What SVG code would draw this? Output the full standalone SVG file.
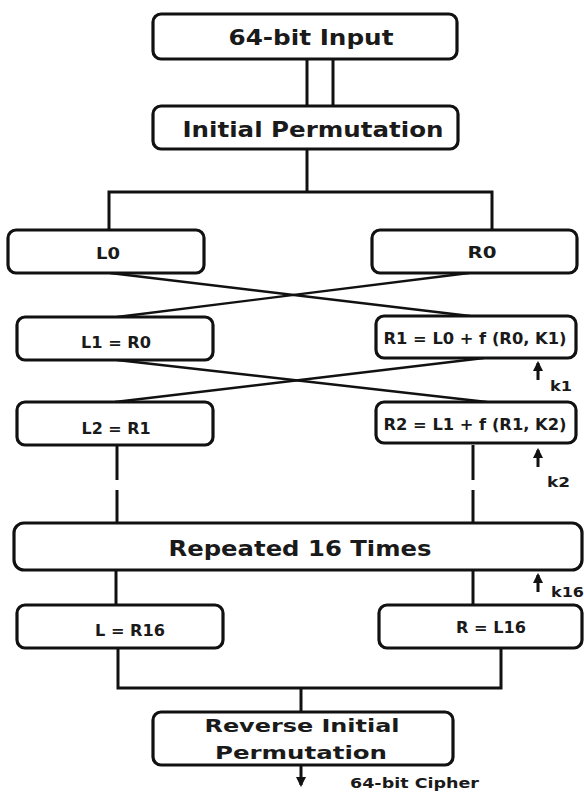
<svg xmlns="http://www.w3.org/2000/svg" width="584" height="792" viewBox="0 0 584 792">
  <defs>
    <marker id="arrowHead" viewBox="0 0 10 10" refX="8" refY="5" markerWidth="3.5" markerHeight="3.5" orient="auto">
      <path d="M0,0 L10,5 L0,10 Z" fill="#111"/>
    </marker>
  </defs>
  <style>
    .box { fill: #fff; stroke: #111; stroke-width: 3.2; }
    .wire { fill: none; stroke: #111; stroke-width: 3; }
    .cross { fill: none; stroke: #111; stroke-width: 2.4; }
    text { font-family: "DejaVu Sans", "Open Sans", sans-serif; font-weight: 700; fill: #1a1a1a; }
    .big { font-size: 21px; text-anchor: middle; }
    .mid { font-size: 18px; text-anchor: middle; }
    .small { font-size: 15px; text-anchor: middle; }
    .key { font-size: 14px; }
  </style>
  <rect width="584" height="792" fill="#fff"/>

  <!-- connectors -->
  <g id="connectors">
    <line class="wire" x1="307" y1="59" x2="307" y2="106"/>
    <line class="wire" x1="333" y1="59" x2="333" y2="106"/>
    <polyline class="wire" points="307,149 307,192"/>
    <polyline class="wire" points="109,230 109,192 492,192 492,230"/>
    <!-- round 1 swap -->
    <line class="cross" x1="110" y1="273" x2="470" y2="316"/>
    <line class="cross" x1="469" y1="273" x2="117" y2="317"/>
    <!-- round 2 swap -->
    <line class="cross" x1="117" y1="360" x2="487" y2="402"/>
    <line class="cross" x1="484" y1="358" x2="115" y2="402"/>
    <!-- elided rounds -->
    <line class="wire" x1="117" y1="445" x2="117" y2="480"/>
    <line class="wire" x1="117" y1="490" x2="117" y2="523"/>
    <line class="wire" x1="473" y1="445" x2="473" y2="480"/>
    <line class="wire" x1="473" y1="490" x2="473" y2="523"/>
    <line class="wire" x1="116" y1="570" x2="116" y2="605"/>
    <line class="wire" x1="473" y1="570" x2="473" y2="605"/>
    <!-- merge -->
    <polyline class="wire" points="118,648 118,688 501,688 501,648"/>
    <line class="wire" x1="301" y1="688" x2="301" y2="712"/>
    <line class="wire" x1="301" y1="765" x2="301" y2="785" marker-end="url(#arrowHead)"/>
    <!-- round keys -->
    <line class="wire" x1="538" y1="380" x2="538" y2="363" marker-end="url(#arrowHead)"/>
    <line class="wire" x1="538" y1="467" x2="538" y2="450" marker-end="url(#arrowHead)"/>
    <line class="wire" x1="538" y1="592" x2="538" y2="575" marker-end="url(#arrowHead)"/>
  </g>

  <g id="input">
    <rect class="box" x="153" y="14" width="304" height="45" rx="8"/>
    <text class="big" x="311" y="45" textLength="165" lengthAdjust="spacingAndGlyphs">64-bit Input</text>
  </g>
  <g id="ip">
    <rect class="box" x="153" y="106" width="305" height="43" rx="8"/>
    <text class="big" x="313" y="137" textLength="261" lengthAdjust="spacingAndGlyphs">Initial Permutation</text>
  </g>
  <g id="l0">
    <rect class="box" x="8" y="230" width="196" height="43" rx="8"/>
    <text class="small" x="108" y="259" textLength="24" lengthAdjust="spacingAndGlyphs">L0</text>
  </g>
  <g id="r0">
    <rect class="box" x="372" y="230" width="205" height="43" rx="8"/>
    <text class="small" x="482" y="258" textLength="29" lengthAdjust="spacingAndGlyphs">R0</text>
  </g>
  <g id="l1">
    <rect class="box" x="17" y="317" width="196" height="43" rx="8"/>
    <text class="small" x="116" y="348" textLength="70" lengthAdjust="spacingAndGlyphs">L1 = R0</text>
  </g>
  <g id="r1">
    <rect class="box" x="376" y="316" width="200" height="42" rx="8"/>
    <text class="small" x="475" y="344" textLength="183" lengthAdjust="spacingAndGlyphs">R1 = L0 + f (R0, K1)</text>
  </g>
  <g id="l2">
    <rect class="box" x="17" y="402" width="196" height="43" rx="8"/>
    <text class="small" x="116" y="434" textLength="69" lengthAdjust="spacingAndGlyphs">L2 = R1</text>
  </g>
  <g id="r2">
    <rect class="box" x="376" y="402" width="200" height="41" rx="8"/>
    <text class="small" x="475" y="430" textLength="183" lengthAdjust="spacingAndGlyphs">R2 = L1 + f (R1, K2)</text>
  </g>
  <g id="repeat">
    <rect class="box" x="14" y="523" width="568" height="47" rx="10"/>
    <text class="big" x="300" y="556" textLength="263" lengthAdjust="spacingAndGlyphs">Repeated 16 Times</text>
  </g>
  <g id="lfinal">
    <rect class="box" x="17" y="605" width="206" height="43" rx="8"/>
    <text class="small" x="130" y="636" textLength="70" lengthAdjust="spacingAndGlyphs">L = R16</text>
  </g>
  <g id="rfinal">
    <rect class="box" x="379" y="605" width="203" height="43" rx="8"/>
    <text class="small" x="491" y="633" textLength="70" lengthAdjust="spacingAndGlyphs">R = L16</text>
  </g>
  <g id="fp">
    <rect class="box" x="153" y="712" width="300" height="53" rx="8"/>
    <text class="mid" x="302" y="732" textLength="195" lengthAdjust="spacingAndGlyphs">Reverse Initial</text>
    <text class="mid" x="301" y="759" textLength="172" lengthAdjust="spacingAndGlyphs">Permutation</text>
  </g>
  <g id="keys">
    <text class="key" x="550" y="391" textLength="22" lengthAdjust="spacingAndGlyphs">k1</text>
    <text class="key" x="547" y="487" textLength="23" lengthAdjust="spacingAndGlyphs">k2</text>
    <text class="key" x="551" y="597" textLength="33" lengthAdjust="spacingAndGlyphs">k16</text>
    <text class="key" x="350" y="788" textLength="129" lengthAdjust="spacingAndGlyphs">64-bit Cipher</text>
  </g>
</svg>
